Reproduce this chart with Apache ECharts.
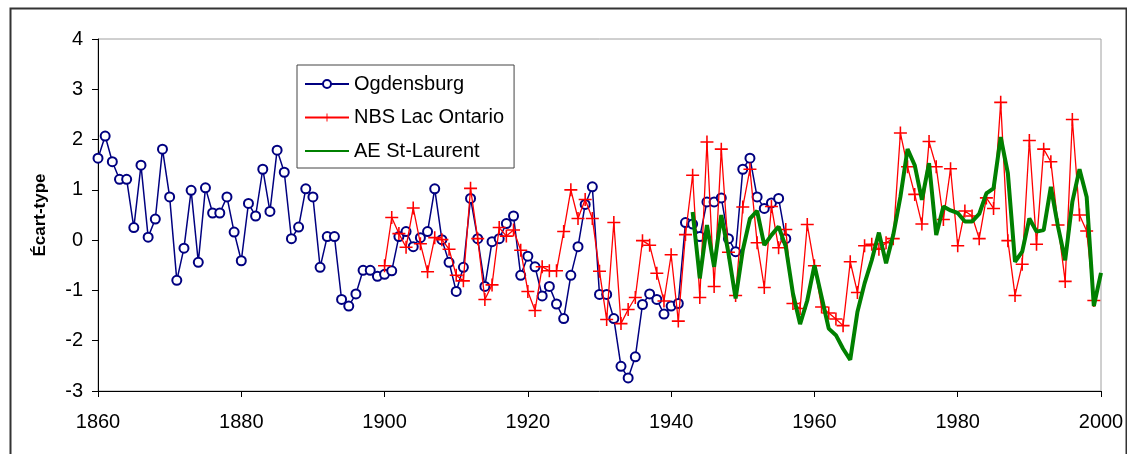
<!DOCTYPE html>
<html>
<head>
<meta charset="utf-8">
<title>Écart-type 1860-2000</title>
<script src="https://cdn.jsdelivr.net/npm/echarts@6/dist/echarts.min.js"></script>
<style>
  html, body { margin: 0; padding: 0; background: #ffffff; }
  #chart { width: 1127px; height: 454px; }
</style>
</head>
<body>
<div id="chart"></div>
<script>
// Standardised anomalies (écart-type), one value per year
const ogdensburgStart = 1860;
const ogdensburg = [
  1.63, 2.07, 1.56, 1.21, 1.21, 0.25, 1.49, 0.06, 0.42, 1.81,
  0.86, -0.80, -0.16, 0.99, -0.44, 1.04, 0.54, 0.54, 0.86, 0.16,
  -0.41, 0.73, 0.48, 1.41, 0.57, 1.79, 1.35, 0.03, 0.26, 1.02,
  0.86, -0.54, 0.07, 0.07, -1.18, -1.31, -1.07, -0.60, -0.60, -0.72,
  -0.68, -0.61, 0.07, 0.17, -0.13, 0.05, 0.17, 1.02, 0.01, -0.44,
  -1.02, -0.54, 0.83, 0.03, -0.92, -0.03, 0.03, 0.33, 0.48, -0.70,
  -0.32, -0.53, -1.11, -0.92, -1.27, -1.56, -0.70, -0.13, 0.71, 1.06,
  -1.08, -1.08, -1.56, -2.51, -2.74, -2.32, -1.28, -1.07, -1.18, -1.47,
  -1.31, -1.26, 0.35, 0.32, 0.07, 0.76, 0.76, 0.84, 0.03, -0.23,
  1.41, 1.63, 0.86, 0.63, 0.74, 0.83, 0.03
];

const nbsStart = 1900;
const nbsLacOntario = [
  -0.51, 0.45, 0.13, -0.14, 0.64, -0.07, -0.63, 0.05, 0.01, -0.18,
  -0.70, -0.81, 1.03, 0.03, -1.18, -0.89, 0.25, 0.08, 0.20, -0.20,
  -1.02, -1.40, -0.53, -0.61, -0.61, 0.17, 1.00, 0.43, 0.81, 0.43,
  -0.62, -1.58, 0.35, -1.66, -1.38, -1.14, -0.01, -0.10, -0.66, -1.21,
  -0.29, -1.61, 0.11, 1.29, -1.14, 1.95, -0.92, 1.81, -0.24, -1.10,
  0.66, 1.41, -0.05, -0.94, 0.67, -0.15, 0.21, -1.26, -1.36, 0.31,
  -0.51, -1.33, -1.45, -1.57, -1.70, -0.43, -1.04, -0.11, -0.08, -0.18,
  -0.05, 0.03, 2.13, 1.46, 0.91, 0.32, 1.96, 1.46, 0.41, 1.42,
  -0.11, 0.58, 0.48, 0.03, 0.84, 0.63, 2.74, -0.01, -1.10, -0.48,
  1.98, -0.08, 1.81, 1.56, 0.30, -0.82, 2.40, 0.50, 0.18, -1.20
];

const aeStart = 1943;
const aeStLaurent = [
  0.56, -0.76, 0.30, -0.53, 0.50, -0.26, -1.16,
  -0.20, 0.43, 0.58, -0.10, 0.10, 0.27, -0.13, -1.06, -1.67, -1.20,
  -0.50, -1.13, -1.76, -1.89, -2.16, -2.38, -1.43, -0.86, -0.40, 0.15,
  -0.46, 0.10, 0.86, 1.81, 1.49, 0.80, 1.53, 0.10, 0.67, 0.59,
  0.54, 0.37, 0.37, 0.52, 0.93, 1.03, 2.05, 1.33, -0.43, -0.23,
  0.43, 0.17, 0.20, 1.06, 0.27, -0.40, 0.76, 1.41, 0.86, -1.31,
  -0.65
];

const seriesNames = ['Ogdensburg', 'NBS Lac Ontario', 'AE St-Laurent'];
const yearMin = 1860, yearMax = 2000, yearStep = 20;
const valueMin = -3, valueMax = 4, valueStep = 1;
const yAxisTitle = 'Écart-type';

// pair each value with its year
function withYears(start, values) {
  return values.map((v, i) => [start + i, v]);
}

// thin "+" marker
const plusSymbol = 'path://M-1,-0.12 L-0.12,-0.12 L-0.12,-1 L0.12,-1 L0.12,-0.12 L1,-0.12 L1,0.12 L0.12,0.12 L0.12,1 L-0.12,1 L-0.12,0.12 L-1,0.12 Z';

const font = "'Liberation Sans', Arial, sans-serif";

const chart = echarts.init(document.getElementById('chart'), null, { renderer: 'canvas' });

chart.setOption({
  animation: false,
  backgroundColor: '#ffffff',
  textStyle: { fontFamily: font },
  graphic: [{
    type: 'rect',
    left: 8, top: 6,
    shape: { width: 1116, height: 470 },
    style: { fill: 'none', stroke: '#333333', lineWidth: 2 },
    silent: true,
    z: -1
  }],
  grid: {
    left: 98, right: 26, top: 39, bottom: 63,
    show: true,
    borderColor: '#a0a0a0',
    borderWidth: 1,
    backgroundColor: '#ffffff'
  },
  legend: {
    orient: 'vertical',
    left: 297, top: 65,
    padding: [9, 10, 7, 7],
    itemGap: 13.5,
    itemWidth: 44,
    itemHeight: 10,
    borderColor: '#444444',
    borderWidth: 1,
    backgroundColor: '#ffffff',
    textStyle: { fontSize: 20, color: '#000000', fontFamily: font, lineHeight: 20 },
    data: [
      { name: seriesNames[0] },
      { name: seriesNames[1] },
      { name: seriesNames[2], itemStyle: { opacity: 0 } }
    ]
  },
  xAxis: {
    type: 'value',
    min: yearMin, max: yearMax, interval: yearStep,
    axisLine: { show: true, onZero: false, lineStyle: { color: '#000000', width: 1 } },
    axisTick: { show: true, length: 6, lineStyle: { color: '#000000' } },
    axisLabel: {
      fontSize: 20, color: '#000000', margin: 21, fontFamily: font,
      formatter: (v) => String(v)
    },
    splitLine: { show: false }
  },
  yAxis: {
    type: 'value',
    min: valueMin, max: valueMax, interval: valueStep,
    name: yAxisTitle,
    nameLocation: 'middle',
    nameGap: 49,
    nameRotate: 90,
    nameTextStyle: { fontSize: 17, fontWeight: 'bold', color: '#000000', fontFamily: font },
    axisLine: { show: true, lineStyle: { color: '#000000', width: 1 } },
    axisTick: { show: true, length: 6, lineStyle: { color: '#000000' } },
    axisLabel: { fontSize: 20, color: '#000000', margin: 15, fontFamily: font },
    splitLine: { show: false }
  },
  series: [
    {
      name: seriesNames[0],
      type: 'line',
      data: withYears(ogdensburgStart, ogdensburg),
      symbol: 'emptyCircle',
      symbolSize: 9,
      showAllSymbol: true,
      color: '#000080',
      lineStyle: { color: '#000080', width: 1.5 },
      itemStyle: { color: '#000080', borderColor: '#000080', borderWidth: 1.5 },
      z: 2
    },
    {
      name: seriesNames[1],
      type: 'line',
      data: withYears(nbsStart, nbsLacOntario),
      symbol: plusSymbol,
      symbolSize: 13,
      showAllSymbol: true,
      color: '#ff0000',
      lineStyle: { color: '#ff0000', width: 1.3 },
      itemStyle: { color: '#ff0000', borderWidth: 0 },
      z: 3
    },
    {
      name: seriesNames[2],
      type: 'line',
      data: withYears(aeStart, aeStLaurent),
      symbol: 'none',
      color: '#008000',
      lineStyle: { color: '#008000', width: 4 },
      z: 4
    }
  ]
});
</script>
</body>
</html>
